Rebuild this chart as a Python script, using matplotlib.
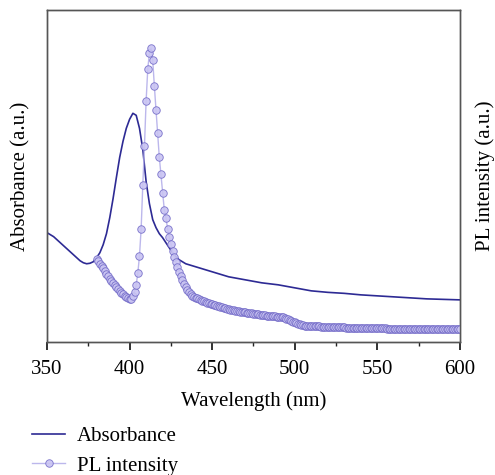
import matplotlib.pyplot as plt
from matplotlib.ticker import MultipleLocator

plt.rcParams['font.family'] = ['Liberation Serif', 'DejaVu Serif']

# absorbance spectrum (a.u.)
abs_wl = [350, 352, 354, 356, 358, 360, 362, 364, 366, 368, 370, 372, 374, 376, 378,
          380, 382, 384, 386, 388, 390, 392, 394, 396, 398, 400, 402, 404, 406, 408,
          410, 412, 414, 416, 418, 420, 422, 424, 426, 428, 430, 432, 434, 436, 438,
          440, 450, 460, 470, 480, 490, 500, 510, 520, 530, 540, 550, 560, 570, 580,
          590, 600]
abs_val = [109, 107, 105, 102, 99, 96, 93, 90, 87, 84, 81, 79, 78, 78.5, 80,
           84, 89, 97, 108, 124, 143, 164, 184, 200, 213, 222, 228, 226, 213, 192,
           160, 138, 122, 114, 108, 104, 99, 94, 89, 85, 82, 80, 78, 77, 76,
           75, 70, 65, 62, 59, 57, 54, 51, 49.5, 48.5, 47, 46, 45, 44, 43,
           42.5, 42]

# PL spectrum (a.u.), one point per nm from 380 to 600
pl_wl = list(range(380, 601))
pl_val = [83, 81, 78, 76, 74, 71, 68, 66, 63, 61,
          59, 57, 55, 53, 51, 49, 48, 46, 45, 44,
          43, 43, 46, 50, 57, 69, 86, 113, 157, 195,
          240, 272, 288, 293, 281, 255, 231, 208, 184, 167,
          149, 132, 124, 113, 105, 98, 91, 85, 80, 75,
          70, 66, 62, 58, 55, 52, 50, 48, 46, 45,
          44,
          43.5, 43, 42, 41, 40.5, 40, 39, 38.5, 38, 37.5,
          37, 36.5, 36, 35.5, 35, 34.5, 34, 33.5, 33, 32.5,
          32.2, 32, 31.5, 31, 30.8, 30.5, 30.2, 30, 29.8, 29.5,
          29.2, 29, 28.8, 28.5, 28.2, 28, 27.8, 27.5, 27.2, 27,
          26.8, 26.5, 26.2, 26, 26, 26, 25.8, 25.5, 25.2, 25,
          25, 25, 24.5, 24, 23.2, 22.5, 21.8, 21, 20.2, 19.5,
          18.8, 18, 17.5, 17, 16.5, 16, 15.8, 15.5, 15.5, 15.5,
          15.5, 15.5, 15.5, 15.5, 15.5, 15, 15, 15, 15, 15,
          14.9, 14.9, 14.8, 14.8, 14.7, 14.7, 14.6, 14.6, 14.5, 14.5,
          14.4, 14.4, 14.3, 14.3, 14.2, 14.2, 14.1, 14.1, 14, 14,
          14, 13.9, 13.9, 13.9, 13.8, 13.8, 13.8, 13.7, 13.7, 13.6,
          13.6, 13.6, 13.5, 13.5, 13.5, 13.4, 13.4, 13.4, 13.3, 13.3,
          13.3, 13.2, 13.2, 13.2, 13.1, 13.1, 13.1, 13, 13, 13,
          13, 13, 12.9, 12.9, 12.9, 12.9, 12.9, 12.8, 12.8, 12.8,
          12.8, 12.8, 12.8, 12.8, 12.7, 12.7, 12.7, 12.7, 12.7, 12.7,
          12.7, 12.7, 12.7, 12.7, 12.7, 12.7, 12.7, 12.7, 12.7, 12.7]

fig = plt.figure(figsize=(4.95, 4.75), dpi=100)
ax = fig.add_axes([0.095, 0.28, 0.834, 0.699])
ax2 = ax.twinx()

ax.plot(abs_wl, abs_val, color='#2d2a94', lw=1.2, label='Absorbance')
ax2.plot(pl_wl, pl_val, color='#b5b0ea', lw=1.0, marker='o', markersize=5.4,
         markerfacecolor='#c9c4f2', markeredgecolor='#6f67c6', markeredgewidth=0.6,
         alpha=0.9, label='PL intensity')

ax.set_xlim(350, 600)
ax.set_ylim(0, 331)
ax2.set_ylim(0, 331)
ax.xaxis.set_major_locator(MultipleLocator(50))
ax.xaxis.set_minor_locator(MultipleLocator(25))
ax.tick_params(axis='x', which='major', direction='out', length=5.8, width=1.3,
               labelsize=15, pad=7, color='#222222')
ax.tick_params(axis='x', which='minor', direction='out', length=2.9, width=1.0,
               color='#222222')
ax.set_yticks([])
ax2.set_yticks([])
for a in (ax, ax2):
    for s in a.spines.values():
        s.set_color('#555555')
        s.set_linewidth(1.0)

ax.set_xlabel('Wavelength (nm)', fontsize=15, labelpad=9)
ax.set_ylabel('Absorbance (a.u.)', fontsize=15, labelpad=12)
ax2.set_ylabel('PL intensity (a.u.)', fontsize=15, labelpad=11)

h1, l1 = ax.get_legend_handles_labels()
h2, l2 = ax2.get_legend_handles_labels()
fig.legend(h1 + h2, l1 + l2, loc='upper left', bbox_to_anchor=(0.048, 0.12),
           frameon=False, fontsize=15, handlelength=1.6, handletextpad=0.55,
           labelspacing=0.48, borderaxespad=0)

fig.savefig('out.png', dpi=100)
